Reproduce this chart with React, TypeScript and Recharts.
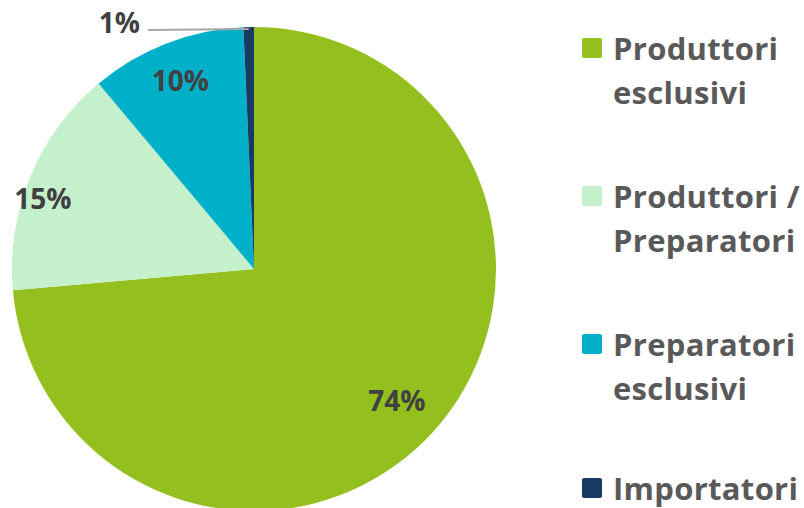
import { PieChart, Pie, Cell, Legend } from "recharts";

const categories = ["Produttori esclusivi", "Produttori / Preparatori", "Preparatori esclusivi", "Importatori"];
const legendLines = [["Produttori", "esclusivi"], ["Produttori /", "Preparatori"], ["Preparatori", "esclusivi"], ["Importatori"]];
const shares = [73.6, 15.3, 10.4, 0.7];
const shareLabels = ["74%", "15%", "10%", "1%"];
const colors = ["#93C01F", "#C4F0CC", "#00B0C9", "#173B63"];

const data = categories.map((name, i) => ({ name, value: shares[i], color: colors[i], label: shareLabels[i] }));

// where each inner label sits: fraction of the radius, and a small angle nudge (deg)
const labelRadius = [0.8, 0.92, 0.84];
const labelAngleNudge = [0, 4, 0];
const RAD = Math.PI / 180;
const FONT = "'Open Sans', sans-serif";

const renderLabel = (props: any) => {
  const { cx, cy, midAngle, outerRadius, index } = props;
  const label = shareLabels[index];
  if (index === 3) {
    // little slice: label outside with a leader line
    const ex = cx + outerRadius * Math.cos(-midAngle * RAD);
    const ey = cy + outerRadius * Math.sin(-midAngle * RAD) + 2;
    return (
      <g>
        <line x1={ex} y1={ey} x2={148} y2={ey + 1} stroke="#A6A6A6" strokeWidth={2} />
        <text x={140} y={ey - 7} textAnchor="end" dominantBaseline="central" fill="#404040"
          style={{ fontFamily: FONT, fontWeight: 700, fontSize: 28 }}>{label}</text>
      </g>
    );
  }
  const r = outerRadius * labelRadius[index];
  const a = (midAngle + labelAngleNudge[index]) * RAD;
  const x = cx + r * Math.cos(-a);
  const y = cy + r * Math.sin(-a);
  return (
    <text x={x} y={y} textAnchor="middle" dominantBaseline="central" fill="#404040"
      style={{ fontFamily: FONT, fontWeight: 700, fontSize: 28 }}>{label}</text>
  );
};

const LegendContent = () => (
  <div style={{ display: "flex", flexDirection: "column", fontFamily: FONT, fontWeight: 700, fontSize: 31, letterSpacing: 0.3, color: "#595959" }}>
    {data.map((d, i) => (
      <div key={d.name} style={{ display: "flex", alignItems: "flex-start", marginTop: i === 0 ? 0 : i === 3 ? 56 : 60 }}>
        <div style={{ width: 20, height: 20, background: d.color, borderRadius: 2, marginTop: 12, marginRight: 11, flexShrink: 0 }} />
        <div style={{ lineHeight: "44px", whiteSpace: "nowrap" }}>
          {legendLines[i].map((l) => <div key={l}>{l}</div>)}
        </div>
      </div>
    ))}
  </div>
);

export default function App() {
  return (
    <div style={{ position: "absolute", left: 0, top: 0, width: 804, height: 508, background: "#fff" }}>
      <PieChart width={804} height={508} margin={{ top: 0, right: 0, bottom: 0, left: 0 }}>
        <Pie
          data={data}
          dataKey="value"
          cx={254}
          cy={269}
          outerRadius={242}
          startAngle={90}
          endAngle={-270}
          stroke="none"
          labelLine={false}
          label={renderLabel}
          isAnimationActive={false}
        >
          {data.map((d) => <Cell key={d.name} fill={d.color} />)}
        </Pie>
        <Legend
          content={LegendContent}
          layout="vertical"
          verticalAlign="top"
          align="right"
          wrapperStyle={{ position: "absolute", left: 582, top: 26, width: 222 }}
        />
      </PieChart>
    </div>
  );
}
